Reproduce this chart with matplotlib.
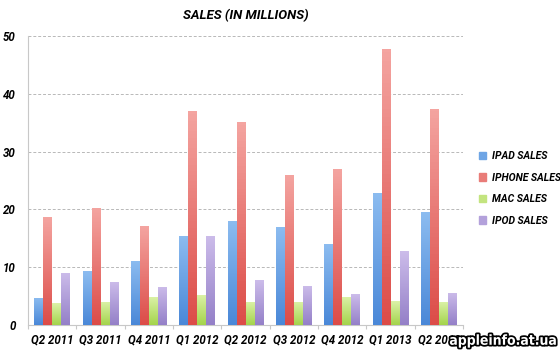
import matplotlib
matplotlib.use("Agg")
import matplotlib.pyplot as plt
import matplotlib.patheffects as pe
from matplotlib.colors import LinearSegmentedColormap
import numpy as np

plt.rcParams['font.family'] = ['Roboto', 'DejaVu Sans']
plt.rcParams['font.stretch'] = 'condensed'

quarters = ["Q2 2011", "Q3 2011", "Q4 2011", "Q1 2012", "Q2 2012",
            "Q3 2012", "Q4 2012", "Q1 2013", "Q2 2013"]
ipad   = [4.7, 9.25, 11.1, 15.4, 18.0, 17.0, 14.0, 22.9, 19.5]
iphone = [18.6, 20.3, 17.1, 37.0, 35.1, 26.0, 26.9, 47.8, 37.4]
mac    = [3.8, 4.0, 4.9, 5.2, 4.0, 4.0, 4.9, 4.1, 4.0]
ipod   = [9.0, 7.5, 6.6, 15.4, 7.7, 6.8, 5.3, 12.7, 5.6]

series = [("IPAD SALES", ipad, "#8cbcf0", "#4a88d8"),
          ("IPHONE SALES", iphone, "#f4a4a0", "#dc4c48"),
          ("MAC SALES", mac, "#dcf2a8", "#a4d44c"),
          ("IPOD SALES", ipod, "#ccbcea", "#9480c8")]

fig = plt.figure(figsize=(5.6, 3.52), dpi=100)
ax = fig.add_axes([0.05, 0.077, 0.777, 0.821])

x = np.arange(len(quarters))
w = 0.186
handles = []
for i, (name, vals, top, bot) in enumerate(series):
    cmap = LinearSegmentedColormap.from_list(name, [bot, top])
    grad = np.linspace(0, 1, 64).reshape(-1, 1)
    bars = ax.bar(x + (i - 1.5) * w, vals, w, color=top, edgecolor='none', zorder=2)
    for b in bars:
        im = ax.imshow(grad, cmap=cmap, origin='lower', aspect='auto', zorder=3,
                       extent=[b.get_x(), b.get_x() + b.get_width(), 0, b.get_height()])
        im.set_clip_path(b)
    handles.append(plt.Rectangle((0, 0), 1, 1, color=cmap(0.55)))

ax.set_xlim(-0.5, len(quarters) - 0.5)
ax.set_ylim(0, 50)
ax.set_yticks([0, 10, 20, 30, 40, 50])
ax.yaxis.grid(True, linestyle=(0, (3, 2)), color='#b8b8b8', linewidth=0.7, zorder=0)
ax.set_axisbelow(True)

for s in ['top', 'right']:
    ax.spines[s].set_visible(False)
ax.spines['left'].set_color('#c8c8c8')
ax.spines['bottom'].set_color('#c8c8c8')

# group separators as major ticks, quarter names as minor ticks
ax.set_xticks(np.arange(len(quarters) + 1) - 0.5)
ax.set_xticklabels([])
ax.set_xticks(x, minor=True)
ax.set_xticklabels(quarters, minor=True)
ax.tick_params(axis='x', which='major', length=3, color='#c8c8c8', direction='out')
ax.tick_params(axis='x', which='minor', length=0, pad=6)
ax.tick_params(axis='y', length=0, pad=9)
for lbl in ax.get_xticklabels(minor=True) + ax.get_yticklabels():
    lbl.set_fontweight('bold')
    lbl.set_style('italic')
    lbl.set_fontsize(8.3)

ax.set_title("SALES (IN MILLIONS)", fontsize=9.5, fontweight='bold', style='italic', pad=12)

fig.legend(handles, [s[0] for s in series], loc='center left',
           bbox_to_anchor=(0.838, 0.465), frameon=False, handlelength=0.7,
           handleheight=0.7, handletextpad=0.6, labelspacing=1.1,
           prop=dict(weight='bold', style='italic', size=7.5))

fig.text(0.993, 0.012, "appleinfo.at.ua", ha='right', va='bottom', fontsize=10,
         fontweight='bold', color='white', family='DejaVu Sans', zorder=10,
         path_effects=[pe.withStroke(linewidth=2.5, foreground='black')])

fig.savefig("out.png", dpi=100)
